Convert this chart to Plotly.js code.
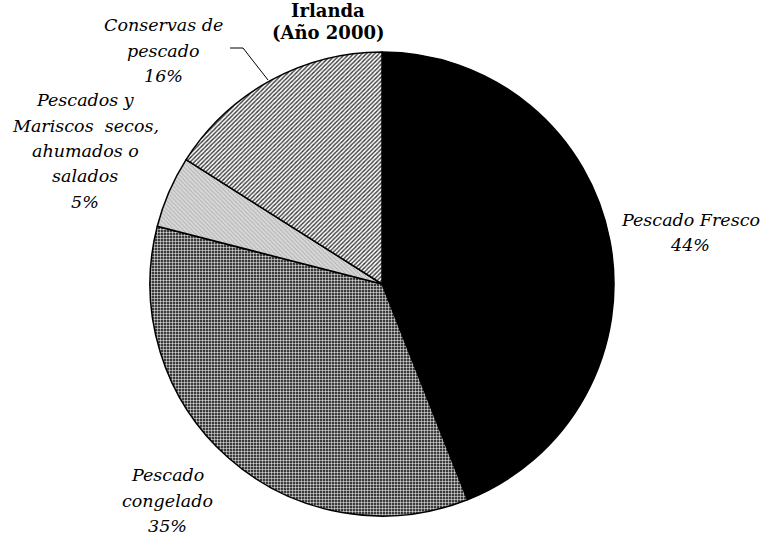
<!DOCTYPE html>
<html>
<head>
<meta charset="utf-8">
<script src="https://cdn.plot.ly/plotly-3.0.1.min.js"></script>
<style>html,body{margin:0;padding:0;background:#fff;}#chart{width:763px;height:535px;}</style>
</head>
<body>
<div id="chart"></div>
<script>
// ---- data ----
const categories = ['Pescado Fresco', 'Pescado congelado', 'Pescados y Mariscos secos, ahumados o salados', 'Conservas de pescado'];
const values = [44, 35, 5, 16];
const labelLines = [
  ['Pescado Fresco'],
  ['Pescado', 'congelado'],
  ['Pescados y', 'Mariscos\u00a0\u00a0secos,', 'ahumados o', 'salados'],
  ['Conservas de', 'pescado']
];
const titleLines = ['Irlanda', '(Año 2000)'];

// ---- styling / placement ----
const W = 763, H = 535;
const fills = ['#000000', '#3a3a3a', '#cfcfcf', '#ffffff'];
const patShapes = ['', '+', '\\', '/'];
const patFg = ['#000000', '#ffffff', '#b0b0b0', '#3a3a3a'];
const patBg = ['#000000', '#3a3a3a', '#d8d8d8', '#ffffff'];
const patSolid = [0.3, 0.3, 0.3, 0.45];
const labelPos = [ [690, 220], [167, 475], [85, 100], [163, 25] ]; // pixel centre of first line
const lineGap = 25.5;

const total = values.reduce((a, b) => a + b, 0);
const annotations = [];
const px = x => x / W, py = y => 1 - y / H;
labelLines.forEach((lines, i) => {
  const all = lines.concat([Math.round(values[i] / total * 100) + '%']);
  all.forEach((t, k) => {
    annotations.push({
      xref: 'paper', yref: 'paper', x: px(labelPos[i][0]), y: py(labelPos[i][1] + k * lineGap),
      xanchor: 'center', yanchor: 'middle', showarrow: false, text: t,
      font: {family: 'DejaVu Serif', size: 17.5, color: '#000', style: 'italic'}
    });
  });
});
titleLines.forEach((t, k) => {
  annotations.push({
    xref: 'paper', yref: 'paper', x: px(328), y: py(10 + k * 23),
    xanchor: 'center', yanchor: 'middle', showarrow: false, text: '<b>' + t + '</b>',
    font: {family: 'DejaVu Serif', size: 18, color: '#000'}
  });
});

const trace = {
  type: 'pie',
  labels: categories,
  values: values,
  sort: false,
  direction: 'clockwise',
  rotation: 0,
  textinfo: 'none',
  hoverinfo: 'label+percent',
  domain: {x: [150 / W, 614 / W], y: [19 / H, 483 / H]},
  marker: {
    colors: fills,
    line: {color: '#000', width: 1.5},
    pattern: {shape: patShapes, fgcolor: patFg, bgcolor: patBg, size: 3, solidity: patSolid, fillmode: 'replace'}
  },
  showlegend: false
};

const layout = {
  width: W, height: H,
  margin: {l: 0, r: 0, t: 0, b: 0},
  paper_bgcolor: '#fff',
  plot_bgcolor: '#fff',
  showlegend: false,
  annotations: annotations,
  shapes: [
    {type: 'line', xref: 'paper', yref: 'paper', x0: px(230), y0: py(48), x1: px(243), y1: py(48), line: {color: '#000', width: 1}},
    {type: 'line', xref: 'paper', yref: 'paper', x0: px(243), y0: py(48), x1: px(268), y1: py(80), line: {color: '#000', width: 1}}
  ]
};

Plotly.newPlot('chart', [trace], layout, {displayModeBar: false, staticPlot: true});
</script>
</body>
</html>
